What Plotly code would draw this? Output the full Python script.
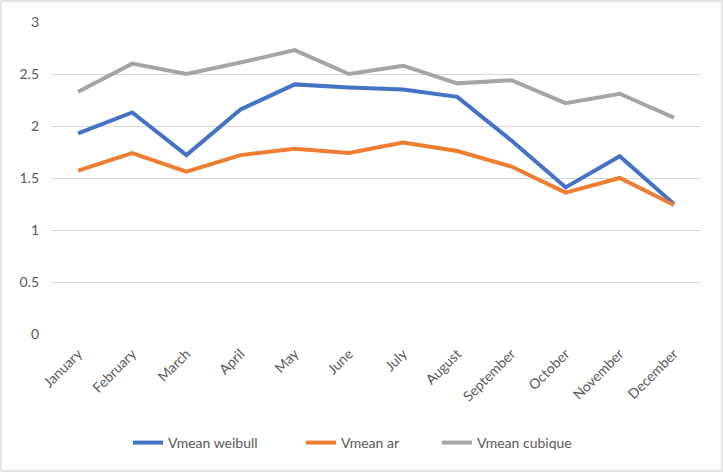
import plotly.graph_objects as go

months = ["January", "February", "March", "April", "May", "June", "July",
          "August", "September", "October", "November", "December"]
vmean_weibull = [1.93, 2.13, 1.72, 2.16, 2.40, 2.37, 2.35, 2.28, 1.86, 1.41, 1.71, 1.25]
vmean_ar = [1.57, 1.74, 1.56, 1.72, 1.78, 1.74, 1.84, 1.76, 1.61, 1.36, 1.50, 1.24]
vmean_cubique = [2.33, 2.60, 2.50, 2.61, 2.73, 2.50, 2.58, 2.41, 2.44, 2.22, 2.31, 2.08]
y_ticks = [0, 0.5, 1, 1.5, 2, 2.5, 3]
y_tick_labels = ["0", "0.5", "1", "1.5", "2", "2.5", "3"]

series = [
    ("Vmean weibull", vmean_weibull, "#4472C4", "legend"),
    ("Vmean ar", vmean_ar, "#ED7D31", "legend2"),
    ("Vmean cubique", vmean_cubique, "#A5A5A5", "legend3"),
]

fig = go.Figure()
for name, vals, color, lg in series:
    fig.add_trace(go.Scatter(x=months, y=vals, name=name, mode="lines", legend=lg,
                             line=dict(color=color, width=4)))

W, H = 723, 472
ml, mr, mt, mb = 51, 22, 22, 138
pw, ph = W - ml - mr, H - mt - mb

def px(x):
    return (x - ml) / pw

def py(y):
    return (H - mb - y) / ph

def leg(xpix):
    return dict(orientation="h", x=px(xpix), xanchor="left", y=py(443), yanchor="middle",
                font=dict(size=14, color="#595959"), bgcolor="rgba(0,0,0,0)")

fig.update_layout(
    width=W, height=H,
    margin=dict(l=ml, r=mr, t=mt, b=mb),
    paper_bgcolor="white", plot_bgcolor="white",
    font=dict(family="Lato, Carlito, Calibri, sans-serif", size=14, color="#595959"),
    xaxis=dict(type="category", range=[-0.5, 11.5], showgrid=False, showline=False,
               zeroline=False, tickangle=-45, ticks="", tickfont=dict(size=14),
               ticklabelstandoff=8),
    yaxis=dict(range=[0, 3], tickvals=y_ticks, ticktext=y_tick_labels,
               showgrid=True, gridcolor="#D9D9D9", gridwidth=1.3,
               zeroline=False, showline=False, ticks="", ticklabelstandoff=11,
               tickfont=dict(size=14)),
    legend=leg(128),
    legend2=leg(301),
    legend3=leg(437),
    showlegend=True,
    shapes=[dict(type="rect", xref="paper", yref="paper",
                 x0=px(1), x1=px(722), y0=py(471), y1=py(1),
                 line=dict(color="#D9D9D9", width=1.3), fillcolor="rgba(0,0,0,0)")],
)

fig.write_html("out.html", config={"displayModeBar": False},
               post_script="document.body.style.margin='0';document.body.style.overflow='hidden';")
